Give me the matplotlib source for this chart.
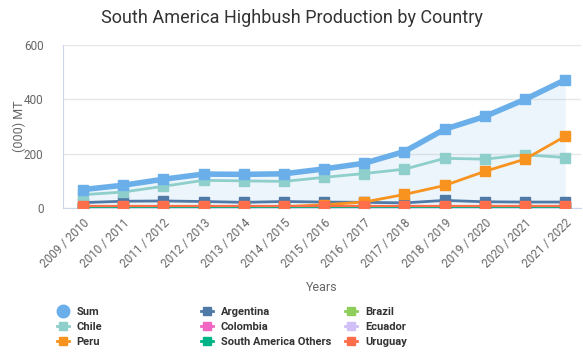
import matplotlib.pyplot as plt
from matplotlib.lines import Line2D

plt.rcParams["font.family"] = ["Roboto", "DejaVu Sans"]

seasons = [
    "2009 / 2010", "2010 / 2011", "2011 / 2012", "2012 / 2013", "2013 / 2014",
    "2014 / 2015", "2015 / 2016", "2016 / 2017", "2017 / 2018", "2018 / 2019",
    "2019 / 2020", "2020 / 2021", "2021 / 2022",
]

# thousand metric tonnes
total = [68, 84, 106, 125, 124, 126, 144, 165, 208, 290, 337, 400, 472]
chile = [49, 59, 80, 102, 100, 98, 113, 127, 143, 183, 180, 196, 186]
peru = [3, 4, 4, 4, 4, 5, 12, 22, 50, 83, 135, 180, 264]
argentina = [20, 25, 26, 24, 21, 24, 22, 21, 19, 28, 23, 22, 22]
colombia = [0, 0, 0, 0, 1, 1, 2, 2, 3, 3, 4, 5, 5]
others = [0, 0, 0, 0, 0, 0, 0, 0, 0, 1, 1, 1, 1]
brazil = [1, 1, 1, 1, 1, 1, 1, 1, 1, 1, 1, 1, 1]
ecuador = [0, 0, 0, 0, 0, 0, 0, 0, 0, 1, 1, 1, 2]
uruguay = [6, 6, 6, 6, 6, 6, 6, 6, 6, 6, 6, 6, 6]

series = [
    ("Argentina", argentina, "#4f79a7"),
    ("Brazil", brazil, "#8fce5a"),
    ("Chile", chile, "#8ecfcb"),
    ("Colombia", colombia, "#f265c3"),
    ("Ecuador", ecuador, "#d1bff8"),
    ("Peru", peru, "#f7931e"),
    ("South America Others", others, "#00b386"),
    ("Uruguay", uruguay, "#ff6e4a"),
]

fig = plt.figure(figsize=(5.83, 3.52), dpi=100)
ax = fig.add_axes([0.108, 0.409, 0.889, 0.463])

x = list(range(len(seasons)))
ax.fill_between(x, total, 0, color="#6aaeea", alpha=0.12, lw=0, zorder=1)

handles = {}
for name, vals, col in series:
    lw = 2.0 if name in ("Chile", "Argentina", "Peru") else 1.6
    ax.plot(x, vals, color=col, lw=lw, marker="s", ms=6.5, mec=col, zorder=3)
    handles[name] = Line2D([], [], color=col, lw=2, marker="s", ms=5.5)

ax.plot(x, total, color="#6aaeea", lw=4, marker="s", ms=7.5, zorder=4)
handles["Sum"] = Line2D([], [], color="#6aaeea", lw=0, marker="o", ms=9)

ax.set_xlim(-0.5, 12.4)
ax.set_ylim(0, 600)
ax.set_yticks([0, 200, 400, 600])
ax.set_xticks(x)
ax.set_xticklabels(seasons, rotation=45, ha="right", rotation_mode="anchor")
ax.tick_params(axis="both", length=0, labelsize=8.5, colors="#666666")
ax.tick_params(axis="x", pad=6)
ax.tick_params(axis="y", pad=14)
ax.grid(axis="y", color="#e6e6e6", lw=1)
ax.set_axisbelow(True)
for s in ["top", "right"]:
    ax.spines[s].set_visible(False)
ax.spines["left"].set_color("#ccd6eb")
ax.spines["bottom"].set_color("#ccd6eb")

ax.set_ylabel("(000) MT", fontsize=9, color="#666666")
ax.yaxis.set_label_coords(-0.072, 0.5)
ax.set_xlabel("Years", fontsize=9, color="#666666", labelpad=8)
fig.suptitle("South America Highbush Production by Country",
             fontsize=13, color="#333333", x=0.5, y=0.975)

columns = [
    (["Sum", "Chile", "Peru"], 0.097),
    (["Argentina", "Colombia", "South America Others"], 0.344),
    (["Brazil", "Ecuador", "Uruguay"], 0.592),
]
for names, xpos in columns:
    fig.legend([handles[n] for n in names], names, loc="upper left",
               bbox_to_anchor=(xpos, 0.127), frameon=False, ncol=1,
               prop={"weight": "bold", "size": 8}, labelcolor="#333333",
               handlelength=1.1, handletextpad=0.7, labelspacing=0.45,
               borderpad=0, borderaxespad=0)

fig.savefig("out.png", dpi=100)
